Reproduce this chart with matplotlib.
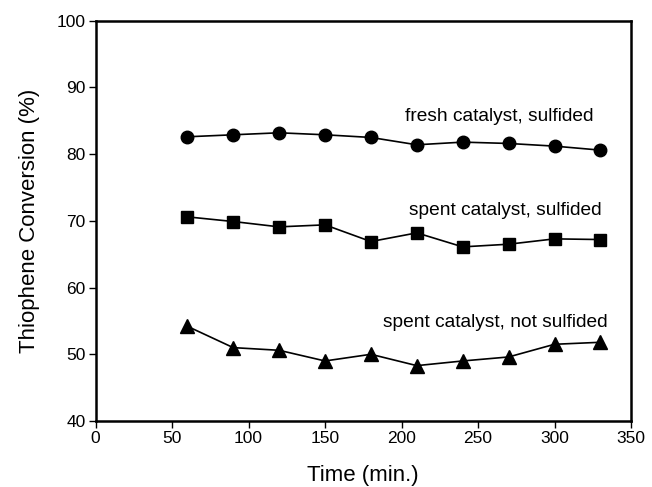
import numpy as np
import matplotlib
matplotlib.use('Agg')
import matplotlib.pyplot as plt

plt.rcParams['font.family'] = ['Liberation Sans', 'DejaVu Sans']

# time on stream (min.)
time = [60, 90, 120, 150, 180, 210, 240, 270, 300, 330]
# thiophene conversion (%)
fresh_sulfided = [82.6, 82.9, 83.2, 82.9, 82.5, 81.4, 81.8, 81.6, 81.2, 80.6]
spent_sulfided = [70.6, 69.9, 69.1, 69.4, 66.9, 68.2, 66.1, 66.5, 67.3, 67.2]
spent_not_sulfided = [54.2, 51.0, 50.6, 49.0, 50.0, 48.3, 49.0, 49.6, 51.5, 51.8]

labels = ['fresh catalyst, sulfided', 'spent catalyst, sulfided',
          'spent catalyst, not sulfided']

fig = plt.figure(figsize=(6.52, 4.87), dpi=100)
ax = fig.add_axes([0.1465, 0.1355, 0.8213, 0.822])

ax.plot(time, fresh_sulfided, color='black', lw=1.2, marker='o', ms=9)
ax.plot(time, spent_sulfided, color='black', lw=1.2, marker='s', ms=8)
ax.plot(time, spent_not_sulfided, color='black', lw=1.2, marker='^', ms=9.5)

ax.text(264, 85.6, labels[0], ha='center', va='center', fontsize=13.8)
ax.text(268, 71.5, labels[1], ha='center', va='center', fontsize=13.8)
ax.text(261, 54.8, labels[2], ha='center', va='center', fontsize=13.8)

ax.set_xlim(0, 350)
ax.set_ylim(40, 100)
ax.set_xticks(np.arange(0, 351, 50))
ax.set_yticks(np.arange(40, 101, 10))
ax.tick_params(direction='out', length=5, width=1, labelsize=12.5, pad=2)
for s in ax.spines.values():
    s.set_linewidth(1.8)

ax.set_xlabel('Time (min.)', fontsize=16, labelpad=14)
ax.set_ylabel('Thiophene Conversion (%)', fontsize=16, labelpad=12)

fig.savefig('out.png', dpi=100)
